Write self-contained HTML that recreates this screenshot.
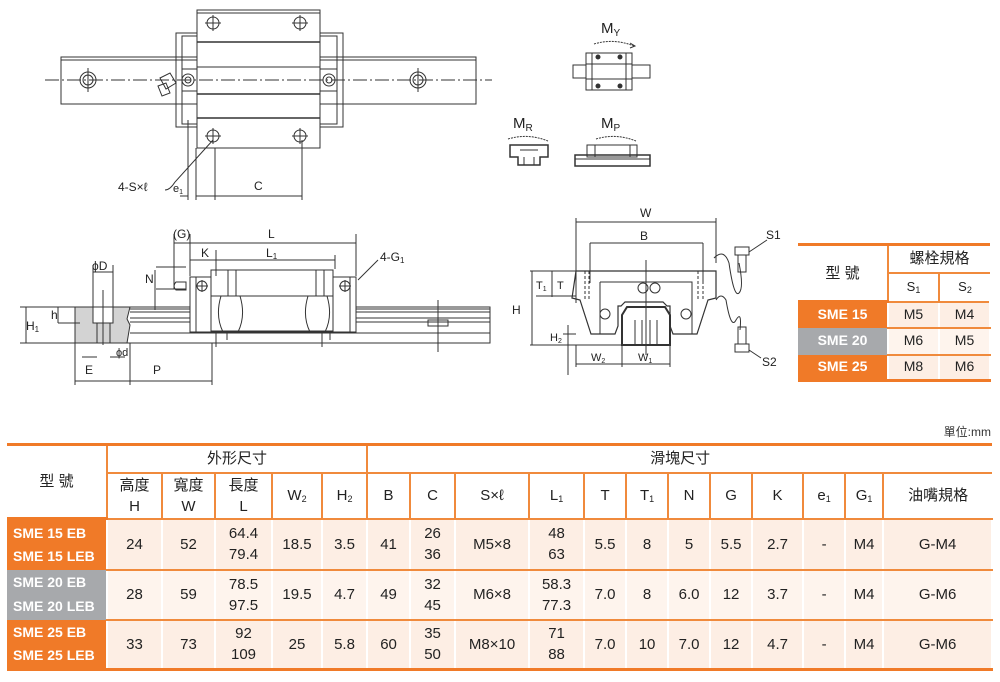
<!DOCTYPE html>
<html><head><meta charset="utf-8"><style>
body{margin:0;width:1000px;height:682px;background:#fff;position:relative;overflow:hidden;font-family:"Liberation Sans","Noto Sans CJK TC",sans-serif;}
svg{position:absolute;left:0;top:0}
table{position:absolute;border-collapse:collapse;table-layout:fixed;font-family:"Liberation Sans","Noto Sans CJK TC",sans-serif;color:#222}
td{padding:0;text-align:center;vertical-align:middle;line-height:1.4}
#t td{font-size:15px}
.h{border:2px solid #f08a3c;background:#fff}
.m{color:#fff;font-weight:bold;font-size:14px!important;text-align:left;padding-left:6px;line-height:1.65}
.o{background:#f07a28}.g{background:#a7a9ac}
.d{background:#fdeee4;border-left:2px solid #fff;border-right:2px solid #fff;border-top:2px solid #f08a3c;border-bottom:2px solid #f08a3c}
.d2{background:#fef4ed}
sub{font-size:9px;vertical-align:-2px}
</style></head><body>
<svg width="1000" height="682" viewBox="0 0 1000 682" fill="none" stroke="#333" stroke-width="1" font-family="Liberation Sans, sans-serif">
<rect x="61" y="57" width="415" height="47"/>
<line x1="61" y1="60" x2="476" y2="60"/>
<rect x="176" y="33" width="167" height="94"/>
<rect x="182" y="36" width="155" height="88"/>
<rect x="197" y="10" width="123" height="138" fill="#fff"/>
<line x1="197" y1="13" x2="320" y2="13"/>
<line x1="197" y1="42" x2="320" y2="42" stroke-width="1.5"/>
<line x1="197" y1="67" x2="320" y2="67"/>
<line x1="197" y1="94" x2="320" y2="94" stroke-width="1.5"/>
<line x1="197" y1="118" x2="320" y2="118" stroke-width="1.5"/>
<rect x="182" y="69" width="15" height="22"/><rect x="320" y="69" width="17" height="22"/>
<g>
<circle cx="213" cy="23" r="6"/><circle cx="300" cy="23" r="6"/><circle cx="213" cy="136" r="6"/><circle cx="300" cy="136" r="6"/>
<path d="M213 15v16M205 23h16M300 15v16M292 23h16M213 128v16M205 136h16M300 128v16M292 136h16"/>
<circle cx="88" cy="80" r="8"/><circle cx="88" cy="80" r="5"/><circle cx="418" cy="80" r="8"/><circle cx="418" cy="80" r="5"/>
<circle cx="188" cy="80" r="6"/><circle cx="188" cy="80" r="3"/><circle cx="329" cy="80" r="6"/><circle cx="329" cy="80" r="3"/>
<path d="M88 68v24M418 68v24"/>
</g>
<line x1="45" y1="80" x2="492" y2="80" stroke-dasharray="14,3,2,3"/>
<path d="M160 78l10 -5l6 10l-10 6z M158 86l8 -3l4 10l-8 3z"/>
<path d="M188 120v80M196 148v52M215 148v52M302 140v60"/>
<path d="M180 196h8M196 196h19M215 196h87"/>
<path d="M165 190q5 0 10 -8l38 -42"/>
<text x="118" y="191" font-size="12" fill="#222" stroke="none">4-S×ℓ</text>
<text x="173" y="192" font-size="11" fill="#222" stroke="none">e<tspan font-size="7" dy="2">1</tspan></text>
<text x="254" y="190" font-size="12" fill="#222" stroke="none">C</text>
<text x="601" y="33" font-size="15" fill="#222" stroke="none">M<tspan font-size="10" dy="3">Y</tspan></text>
<path d="M594 44q20 -6 40 2" stroke-dasharray="2,1"/><path d="M630 43l5 3l-5 2"/>
<rect x="573" y="65" width="77" height="13"/>
<rect x="586" y="53" width="46" height="37" fill="#fff"/>
<path d="M592 53v37M626 53v37M586 64h46M586 79h46"/>
<circle cx="598" cy="57" r="2" fill="#333"/><circle cx="620" cy="57" r="2" fill="#333"/><circle cx="598" cy="86" r="2" fill="#333"/><circle cx="620" cy="86" r="2" fill="#333"/>
<text x="513" y="128" font-size="15" fill="#222" stroke="none">M<tspan font-size="10" dy="3">R</tspan></text>
<path d="M508 139q20 -6 40 2" stroke-dasharray="2,1"/>
<path d="M510 145h38v12h-8v8h-22v-8h-8z" stroke-width="1.5"/><path d="M520 150h18M524 157v8M534 157v8"/>
<text x="601" y="128" font-size="15" fill="#222" stroke="none">M<tspan font-size="10" dy="3">P</tspan></text>
<path d="M596 139q20 -6 40 2" stroke-dasharray="2,1"/>
<rect x="575" y="155" width="75" height="11" stroke-width="1.5"/><path d="M575 159h75"/>
<rect x="587" y="145" width="50" height="12"/><path d="M595 145v12M630 145v12"/>
<rect x="75" y="307" width="415" height="36"/>
<path d="M130 309h360M130 312h360M130 318h360M130 322h360M130 333h360" />
<path d="M75 307h55l-3 12l3 6l-3 18h-52z" fill="#d3d3d3"/>
<rect x="93" y="307" width="20" height="16" fill="#fff"/>
<path d="M97 323v20M110 323v20M103 290v55"/>
<path d="M93 265v42M113 265v42M93 272h20"/>
<rect x="190" y="277" width="166" height="55" fill="#fff"/>
<rect x="196" y="277" width="15" height="55"/><rect x="333" y="277" width="17" height="55"/>
<rect x="211" y="270" width="122" height="61" fill="#fff"/>
<path d="M211 296h122M228 270v26M236 270v26M316 270v26M324 270v26"/>
<path d="M221 296q-6 20 2 36M240 296q6 20 -2 36M308 296q-6 20 2 36M327 296q6 20 -2 36"/>
<circle cx="202" cy="286" r="5"/><circle cx="345" cy="286" r="5"/><path d="M202 280v12M196 286h12M345 280v12M339 286h12"/>
<path d="M176 282q-4 4 0 8h10v-8z"/>
<path d="M174 234v55M190 234v42M356 234v42M216 250v26M335 255v14M174 243h182M190 260h145"/>
<path d="M155 270v40M156 267h30M156 289h30"/>
<path d="M216 332v15M227 332v8M322 332v15M330 332v8M438 300v52M428 320h20v6h-20z"/>
<path d="M75 343v42M130 343v42M212 343v42M75 381h55M130 381h82M20 307h55M20 343h55M26 307v36M58 307v16M80 323h-22"/>
<path d="M97 357h-15M110 357h15"/>
<path d="M358 280l20 -20"/>
<text x="173" y="238" font-size="12" fill="#222" stroke="none">(G)</text>
<text x="268" y="238" font-size="12" fill="#222" stroke="none">L</text>
<text x="201" y="257" font-size="12" fill="#222" stroke="none">K</text>
<text x="266" y="257" font-size="12" fill="#222" stroke="none">L<tspan font-size="8" dy="2">1</tspan></text>
<text x="145" y="283" font-size="12" fill="#222" stroke="none">N</text>
<text x="380" y="261" font-size="12" fill="#222" stroke="none">4-G<tspan font-size="8" dy="2">1</tspan></text>
<text x="92" y="270" font-size="12" fill="#222" stroke="none">ϕD</text>
<text x="51" y="319" font-size="12" fill="#222" stroke="none">h</text>
<text x="26" y="330" font-size="12" fill="#222" stroke="none">H<tspan font-size="8" dy="2">1</tspan></text>
<text x="116" y="356" font-size="11" fill="#222" stroke="none">ϕd</text>
<text x="85" y="374" font-size="12" fill="#222" stroke="none">E</text>
<text x="153" y="374" font-size="12" fill="#222" stroke="none">P</text>
<path d="M576 271h140v27l-8 2l-11 34h-24l-3 -8v-20h-3l-4 -4h-38l-4 4h-3v20l-3 8h-24l-11 -34l-8 -2z" stroke-width="1.2"/>
<path d="M600 282h92v52M600 282v52"/>
<path d="M622 345v-30l5 -8h38l5 8v30z" stroke-width="2"/>
<path d="M585 271v28M589 271v28M698 271v28M703 271v28" stroke-dasharray="3,2"/>
<circle cx="605" cy="314" r="5"/><circle cx="686" cy="314" r="5"/>
<circle cx="643" cy="288" r="5"/><circle cx="655" cy="288" r="5"/>
<path d="M646 260v95M635 320v25M642 320v25M650 320v25M657 320v25"/>
<path d="M576 218v85M716 218v45M576 222h140M590 243h113M590 243v40M703 243v40"/>
<path d="M530 271h46M530 345h92M532 271v74M552 271v26M536 296h40"/>
<path d="M568 325v50M563 334h13M563 345h13M576 345v22M622 345v22M670 345v22M576 364h94"/>
<path d="M714 258q10 -10 15 5q5 35 10 30q5 -5 0 -30M716 300q5 -8 10 0q5 30 10 20q6 -10 4 10"/>
<rect x="735" y="247" width="14" height="8"/><rect x="738" y="255" width="8" height="17"/>
<rect x="738" y="327" width="8" height="17"/><rect x="735" y="344" width="14" height="8"/>
<path d="M749 252l18 -12M749 350l12 8"/>
<text x="640" y="217" font-size="12" fill="#222" stroke="none">W</text>
<text x="640" y="240" font-size="12" fill="#222" stroke="none">B</text>
<text x="766" y="239" font-size="12" fill="#222" stroke="none">S1</text>
<text x="762" y="366" font-size="12" fill="#222" stroke="none">S2</text>
<text x="512" y="314" font-size="12" fill="#222" stroke="none">H</text>
<text x="536" y="289" font-size="11" fill="#222" stroke="none">T<tspan font-size="7" dy="2">1</tspan></text>
<text x="557" y="289" font-size="11" fill="#222" stroke="none">T</text>
<text x="550" y="341" font-size="11" fill="#222" stroke="none">H<tspan font-size="7" dy="2">2</tspan></text>
<text x="591" y="361" font-size="11" fill="#222" stroke="none">W<tspan font-size="7" dy="2">2</tspan></text>
<text x="638" y="361" font-size="11" fill="#222" stroke="none">W<tspan font-size="7" dy="2">1</tspan></text>
</svg>

<table style="left:798px;top:243px;width:192px;border-top:3px solid #f07a28;border-bottom:3px solid #f07a28">
<colgroup><col style="width:90px"><col style="width:51px"><col style="width:51px"></colgroup>
<tr style="height:28px"><td rowspan="2" style="font-size:15px;border-right:2px solid #f08a3c">型 號</td><td colspan="2" style="font-size:15px;border-bottom:2px solid #f08a3c">螺栓規格</td></tr>
<tr style="height:29px"><td style="font-size:13px;border-right:2px solid #f08a3c">S<sub>1</sub></td><td style="font-size:13px">S<sub>2</sub></td></tr>
<tr style="height:26px"><td class="o" style="color:#fff;font-weight:bold;font-size:14px;border-top:3px solid #f07a28">SME 15</td><td class="d" style="font-size:14px">M5</td><td class="d" style="font-size:14px">M4</td></tr>
<tr style="height:27px"><td class="g" style="color:#fff;font-weight:bold;font-size:14px">SME 20</td><td class="d d2" style="font-size:14px">M6</td><td class="d d2" style="font-size:14px">M5</td></tr>
<tr style="height:26px"><td class="o" style="color:#fff;font-weight:bold;font-size:14px">SME 25</td><td class="d" style="font-size:14px">M8</td><td class="d" style="font-size:14px">M6</td></tr>
</table>

<div style="position:absolute;right:9px;top:423px;font-size:12px;color:#333">單位:mm</div>

<table id="t" style="left:7px;top:443px;width:985px;border-top:3px solid #f07a28;border-bottom:3px solid #f07a28">
<colgroup><col style="width:100px"><col style="width:55px"><col style="width:53px"><col style="width:57px"><col style="width:50px"><col style="width:45px"><col style="width:43px"><col style="width:45px"><col style="width:74px"><col style="width:55px"><col style="width:42px"><col style="width:42px"><col style="width:42px"><col style="width:42px"><col style="width:51px"><col style="width:42px"><col style="width:38px"><col style="width:109px"></colgroup>
<tr style="height:28px"><td rowspan="2" style="border-right:2px solid #f08a3c">型 號</td><td colspan="5" class="h" style="border-top:none">外形尺寸</td><td colspan="12" class="h" style="border-top:none;border-right:none">滑塊尺寸</td></tr>
<tr style="height:46px"><td class="h">高度<br>H</td><td class="h">寬度<br>W</td><td class="h">長度<br>L</td><td class="h">W<sub>2</sub></td><td class="h">H<sub>2</sub></td><td class="h">B</td><td class="h">C</td><td class="h">S×ℓ</td><td class="h">L<sub>1</sub></td><td class="h">T</td><td class="h">T<sub>1</sub></td><td class="h">N</td><td class="h">G</td><td class="h">K</td><td class="h">e<sub>1</sub></td><td class="h">G<sub>1</sub></td><td class="h" style="border-right:none">油嘴規格</td></tr>
<tr style="height:51px"><td class="o m" style="border-top:3px solid #f07a28">SME 15 EB<br>SME 15 LEB</td><td class="d">24</td><td class="d">52</td><td class="d">64.4<br>79.4</td><td class="d">18.5</td><td class="d">3.5</td><td class="d">41</td><td class="d">26<br>36</td><td class="d">M5×8</td><td class="d">48<br>63</td><td class="d">5.5</td><td class="d">8</td><td class="d">5</td><td class="d">5.5</td><td class="d">2.7</td><td class="d">-</td><td class="d">M4</td><td class="d">G-M4</td></tr>
<tr style="height:50px"><td class="g m">SME 20 EB<br>SME 20 LEB</td><td class="d d2">28</td><td class="d d2">59</td><td class="d d2">78.5<br>97.5</td><td class="d d2">19.5</td><td class="d d2">4.7</td><td class="d d2">49</td><td class="d d2">32<br>45</td><td class="d d2">M6×8</td><td class="d d2">58.3<br>77.3</td><td class="d d2">7.0</td><td class="d d2">8</td><td class="d d2">6.0</td><td class="d d2">12</td><td class="d d2">3.7</td><td class="d d2">-</td><td class="d d2">M4</td><td class="d d2">G-M6</td></tr>
<tr style="height:50px"><td class="o m">SME 25 EB<br>SME 25 LEB</td><td class="d">33</td><td class="d">73</td><td class="d">92<br>109</td><td class="d">25</td><td class="d">5.8</td><td class="d">60</td><td class="d">35<br>50</td><td class="d">M8×10</td><td class="d">71<br>88</td><td class="d">7.0</td><td class="d">10</td><td class="d">7.0</td><td class="d">12</td><td class="d">4.7</td><td class="d">-</td><td class="d">M4</td><td class="d">G-M6</td></tr>
</table>
</body></html>
